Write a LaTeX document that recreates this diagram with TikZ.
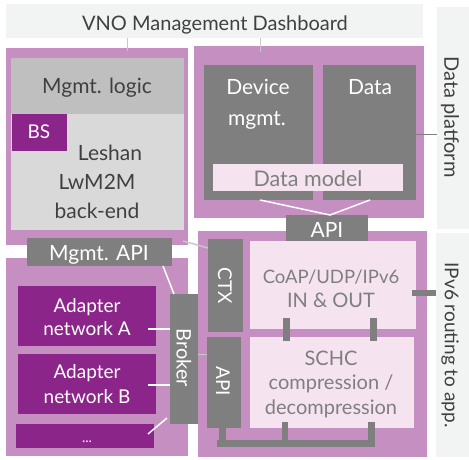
\documentclass[tikz,border=0pt]{standalone}
\usepackage{fontspec}
\setmainfont{Lato}
\definecolor{plight}{HTML}{C68FC2}
\definecolor{pdark}{HTML}{8B2589}
\definecolor{gdark}{HTML}{7F7F7F}
\definecolor{glight}{HTML}{D9D9D9}
\definecolor{gmid}{HTML}{BFBFBF}
\definecolor{pinkl}{HTML}{F5E4F0}
\definecolor{barbg}{HTML}{F2F3F3}
\definecolor{tdark}{HTML}{404040}
\definecolor{lgline}{HTML}{C8C8C8}
\begin{document}
\begin{tikzpicture}[x=1pt,y=-1pt,
  blk/.style={draw=none,inner sep=0pt,outer sep=0pt,anchor=north west},
  txt/.style={inner sep=0pt,outer sep=0pt,anchor=base},
  rtxt/.style={inner sep=0pt,outer sep=0pt,anchor=center,rotate=-90},
  wline/.style={draw=white,line width=1.5pt},
  gline/.style={draw=lgline,line width=1pt},
  thick/.style={draw=gdark,line width=6.5pt},
  fA/.style={font=\fontsize{20}{24}\selectfont},
  fB/.style={font=\fontsize{21}{29}\selectfont},
  fC/.style={font=\fontsize{19}{23}\selectfont},
  fD/.style={font=\fontsize{21.5}{25}\selectfont},
]
\useasboundingbox (0,0) rectangle (469,460);
% side bars
\node[blk,fill=barbg,minimum width=417pt,minimum height=34pt] (topbar) at (6,4) {};
\node[blk,fill=barbg,minimum width=32pt,minimum height=222pt] (dpbar) at (437,7) {};
\node[blk,fill=barbg,minimum width=33pt,minimum height=224pt] (ipbar) at (436,233) {};
\node[txt,fA,text=tdark] (title) at (215,31) {VNO Management Dashboard};
\node[rtxt,font=\fontsize{20}{24}\selectfont,text=tdark] (dptxt) at (450,117) {Data platform};
\node[rtxt,fC,text=tdark] (iptxt) at (450,345) {IPv6 routing to app.};
% purple containers
\node[blk,fill=plight,minimum width=182pt,minimum height=197pt] (ulp) at (6,48) {};
\node[blk,fill=plight,minimum width=182pt,minimum height=198pt] (llp) at (6,258) {};
\node[blk,fill=plight,minimum width=230pt,minimum height=172pt] (urp) at (194,46) {};
\node[blk,fill=plight,minimum width=229pt,minimum height=226pt] (lrp) at (198,231) {};
% Leshan
\node[blk,fill=glight,minimum width=173pt,minimum height=172pt] (leshan) at (11,58) {};
\node[blk,fill=gmid,minimum width=173pt,minimum height=56pt] (mlogic) at (11,58) {};
\node[blk,fill=pdark,minimum width=55pt,minimum height=37pt] (bs) at (12,114) {};
\node[txt,fB,text=tdark] (mlogictxt) at (97,93) {Mgmt. logic};
\node[txt,fC,text=white] (bstxt) at (39,139) {BS};
\node[txt,fB,text=tdark] (l1) at (110,160) {Leshan};
\node[txt,fB,text=tdark] (l2) at (97,189) {LwM2M};
\node[txt,fB,text=tdark] (l3) at (97,218) {back-end};
% data platform
\node[blk,fill=gdark,minimum width=109pt,minimum height=135pt] (dev) at (204,65) {};
\node[blk,fill=gdark,minimum width=93pt,minimum height=135pt] (data) at (323,65) {};
\node[blk,fill=pinkl,minimum width=190pt,minimum height=27pt] (dmodel) at (213,164) {};
\node[txt,fB,text=white] (devtxt1) at (258,95) {Device};
\node[txt,fB,text=white] (devtxt2) at (257,125) {mgmt.};
\node[txt,fB,text=white] (datatxt) at (370,95) {Data};
\node[txt,fD,text=gdark] (dmtxt) at (308,186) {Data model};
\node[blk,fill=gdark,minimum width=82pt,minimum height=28pt] (apiU) at (286,215) {};
\node[txt,fB,text=white] (apiUtxt) at (327,237) {API};
% lower right
\node[blk,fill=gdark,minimum width=35pt,minimum height=93pt] (ctx) at (208,239) {};
\node[blk,fill=gdark,minimum width=34pt,minimum height=91pt] (apiL) at (207,337) {};
\node[rtxt,fC,text=white] (ctxtxt) at (225,286) {CTX};
\node[rtxt,fC,text=white] (apiLtxt) at (223,381) {API};
\node[blk,fill=pinkl,minimum width=166pt,minimum height=88pt] (coap) at (250,241) {};
\node[blk,fill=pinkl,minimum width=164pt,minimum height=91pt] (schc) at (250,337) {};
\node[txt,font=\fontsize{18.5}{22}\selectfont,text=gdark] (c1) at (331,283) {CoAP/UDP/IPv6};
\node[txt,fA,text=gdark] (c2) at (331,307) {IN \& OUT};
\node[txt,fA,text=gdark] (s1) at (331,365) {SCHC};
\node[txt,fA,text=gdark] (s2) at (331,389) {compression /};
\node[txt,fA,text=gdark] (s3) at (331,414) {decompression};
% lower left
\node[blk,fill=gdark,minimum width=145pt,minimum height=28pt] (mapi) at (27,238) {};
\node[txt,fB,text=white] (mapitxt) at (99,260) {Mgmt. API};
\node[blk,fill=pdark,minimum width=138pt,minimum height=60pt] (adA) at (18,286) {};
\node[blk,fill=pdark,minimum width=138pt,minimum height=60pt] (adB) at (18,354) {};
\node[blk,fill=pdark,minimum width=138pt,minimum height=24pt] (dots) at (16,424) {};
\node[txt,fC,text=white] (a1) at (87,312) {Adapter};
\node[txt,fC,text=white] (a2) at (87,335) {network A};
\node[txt,fC,text=white] (b1) at (87,378) {Adapter};
\node[txt,fC,text=white] (b2) at (87,403) {network B};
\node[txt,font=\fontsize{14}{16}\selectfont,text=white] (dotstxt) at (87,442) {...};
\node[blk,fill=gdark,minimum width=28pt,minimum height=130pt] (broker) at (170,294) {};
\node[rtxt,fA,text=white] (brokertxt) at (184,358) {Broker};
% connector coordinates
\coordinate (t1a) at (127,38); \coordinate (t1b) at (127,51);
\coordinate (t2a) at (260,38); \coordinate (t2b) at (260,52);
\coordinate (dpa) at (415,134); \coordinate (dpb) at (437,134);
\coordinate (dva) at (260,200); \coordinate (daa) at (370,200); \coordinate (apt) at (330,215);
\coordinate (lsa) at (183,241); \coordinate (ctxa) at (208,248);
\coordinate (ma) at (163,266); \coordinate (mb) at (174,294);
\coordinate (aa) at (148,329); \coordinate (ab) at (170,329);
\coordinate (ba) at (148,385); \coordinate (bb) at (170,385);
\coordinate (da) at (148,434); \coordinate (db) at (167,418);
\coordinate (bra) at (198,354); \coordinate (brb) at (207,354);
\coordinate (k1a) at (286.5,318); \coordinate (k1b) at (286.5,341);
\coordinate (k2a) at (373.5,318); \coordinate (k2b) at (373.5,341);
\coordinate (ipa) at (412,293); \coordinate (ipb) at (436,293);
\coordinate (busL) at (217,443.5); \coordinate (busR) at (375,443.5);
\coordinate (sa) at (222.5,427); \coordinate (sab) at (222.5,443.5);
\coordinate (sb) at (284.5,422); \coordinate (sbb) at (284.5,443.5);
\coordinate (sc) at (371.5,422); \coordinate (scb) at (371.5,443.5);
% connectors
\draw[gline] (t1a) -- (t1b);
\draw[gline] (t2a) -- (t2b);
\draw[draw=gdark,line width=1pt] (dpa) -- (dpb);
\draw[wline] (dva) -- (apt) -- (daa);
\draw[draw=lgline,line width=1.5pt] (lsa) -- (ctxa);
\draw[wline] (ma) -- (mb);
\draw[wline] (aa) -- (ab);
\draw[wline] (ba) -- (bb);
\draw[wline] (da) -- (db);
\draw[draw=lgline,line width=1pt] (bra) -- (brb);
\draw[thick] (k1a) -- (k1b);
\draw[thick] (k2a) -- (k2b);
\draw[draw=gdark,line width=6pt] (ipa) -- (ipb);
\draw[draw=gdark,line width=7pt] (busL) -- (busR);
\draw[draw=gdark,line width=6.5pt] (sa) -- (sab);
\draw[draw=gdark,line width=6pt] (sb) -- (sbb);
\draw[draw=gdark,line width=6.5pt] (sc) -- (scb);
\end{tikzpicture}
\end{document}
